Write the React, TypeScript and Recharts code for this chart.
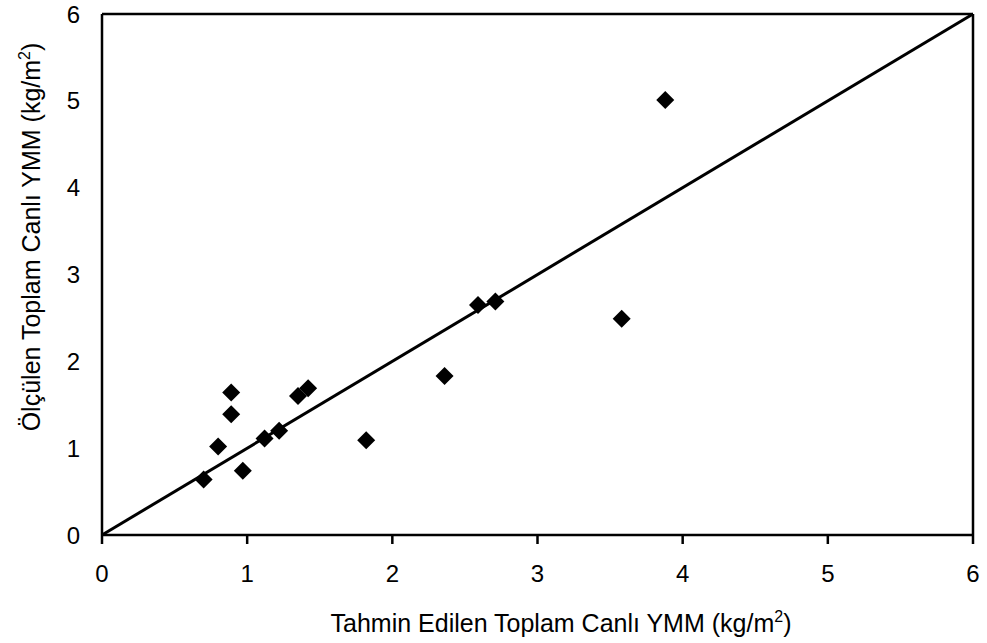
import React from "react";
import {
  ScatterChart,
  Scatter,
  XAxis,
  YAxis,
  ReferenceLine,
} from "recharts";

// Tahmin edilen (x) vs ölçülen (y) toplam canlı YMM, kg/m2
const predicted = [0.7, 0.8, 0.89, 0.89, 0.97, 1.12, 1.22, 1.35, 1.42, 1.82, 2.36, 2.59, 2.71, 3.58, 3.88];
const measured = [0.64, 1.02, 1.64, 1.39, 0.74, 1.11, 1.2, 1.6, 1.69, 1.09, 1.83, 2.65, 2.69, 2.49, 5.01];
const ticks = [0, 1, 2, 3, 4, 5, 6];

const data = predicted.map((x, i) => ({ x, y: measured[i] }));

const FONT = '"Liberation Sans", Arial, Helvetica, sans-serif';

function Diamond(props: any) {
  const { cx, cy } = props;
  const r = 9;
  return (
    <polygon
      points={`${cx},${cy - r} ${cx + r},${cy} ${cx},${cy + r} ${cx - r},${cy}`}
      fill="#000"
    />
  );
}

function XTitle() {
  return (
    <text x={561} y={632} textAnchor="middle" fontSize={25} fontFamily={FONT} fill="#000">
      Tahmin Edilen Toplam Canlı YMM (kg/m
      <tspan dy={-10} fontSize={16}>2</tspan>
      <tspan dy={10}>)</tspan>
    </text>
  );
}

function YTitle() {
  return (
    <text
      x={40}
      y={237}
      transform="rotate(-90 40 237)"
      textAnchor="middle"
      fontSize={25}
      fontFamily={FONT}
      fill="#000"
    >
      Ölçülen Toplam Canlı YMM (kg/m
      <tspan dy={-10} fontSize={16}>2</tspan>
      <tspan dy={10}>)</tspan>
    </text>
  );
}

export default function App() {
  return (
    <div style={{ position: "absolute", left: 0, top: 0, background: "#fff" }}>
      <ScatterChart
        width={987}
        height={643}
        margin={{ top: 14, right: 14, bottom: 0, left: 0 }}
      >
        <XAxis
          type="number"
          dataKey="x"
          domain={[0, 6]}
          ticks={ticks}
          height={108}
          tickSize={9}
          tickMargin={21}
          stroke="#000"
          strokeWidth={2.5}
          tick={{ fill: "#000", fontSize: 24, fontFamily: FONT }}
          label={<XTitle />}
        />
        <YAxis
          type="number"
          dataKey="y"
          domain={[0, 6]}
          ticks={ticks}
          width={102}
          tickLine={false}
          tickSize={0}
          tickMargin={22}
          stroke="#000"
          strokeWidth={2.5}
          tick={{ fill: "#000", fontSize: 24, fontFamily: FONT }}
          label={<YTitle />}
        />
        <ReferenceLine y={6} stroke="#000" strokeWidth={2.5} />
        <ReferenceLine x={6} stroke="#000" strokeWidth={2.5} />
        <ReferenceLine
          segment={[
            { x: 0, y: 0 },
            { x: 6, y: 6 },
          ]}
          stroke="#000"
          strokeWidth={3}
        />
        <Scatter data={data} shape={<Diamond />} isAnimationActive={false} />
      </ScatterChart>
    </div>
  );
}
